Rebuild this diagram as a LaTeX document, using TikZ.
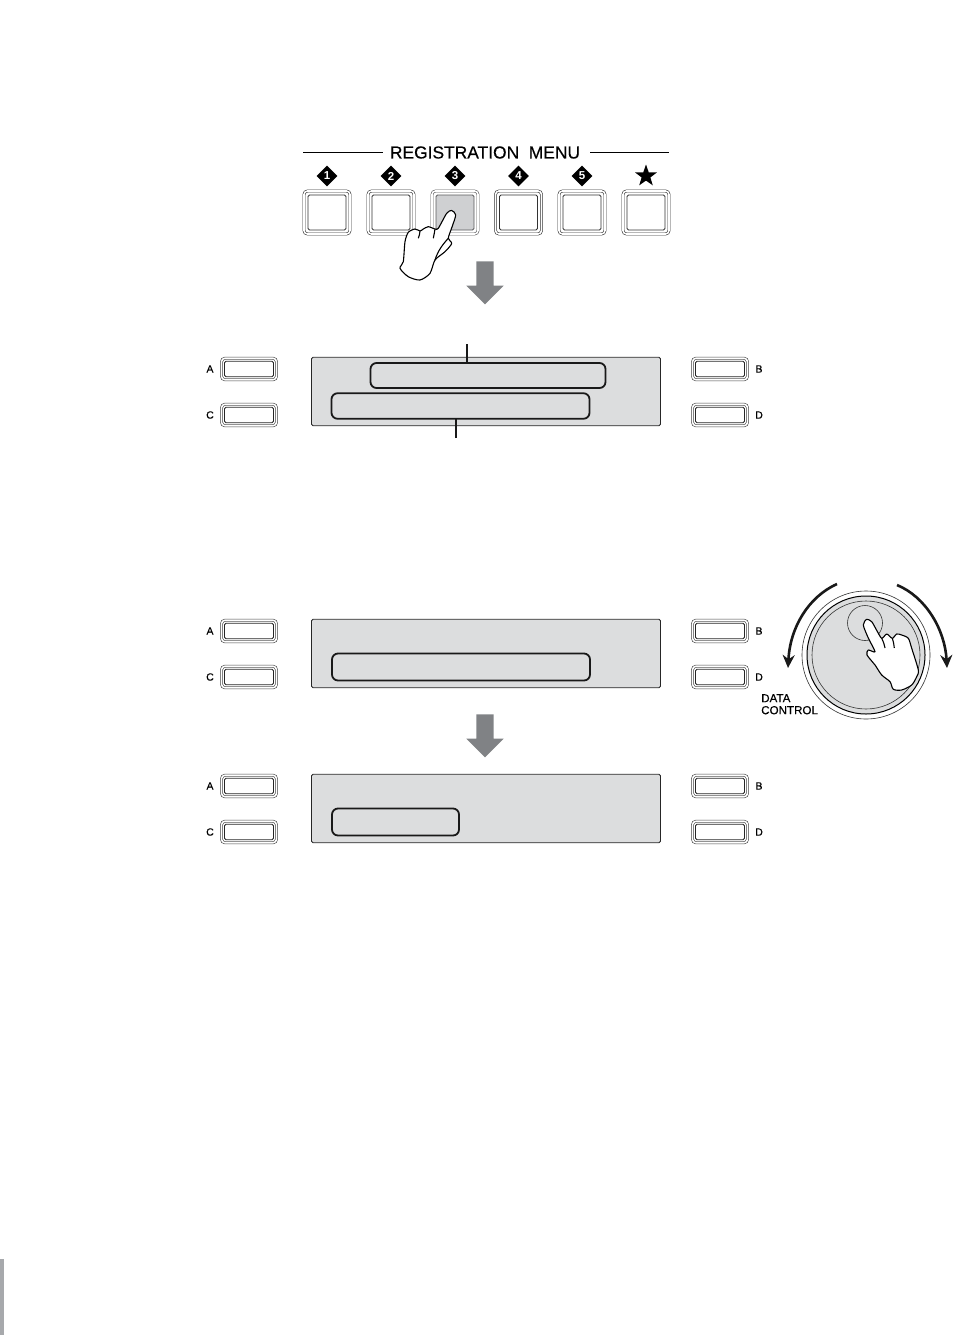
\documentclass[tikz,border=0pt]{standalone}
\usepackage{fontspec}
\setmainfont{Liberation Sans}
\newfontfamily\labelfont[FakeBold=0.35]{Liberation Sans}
\usetikzlibrary{arrows.meta, shapes.geometric, shapes.arrows, positioning}
\definecolor{zpanel}{RGB}{220, 221, 222}
\definecolor{zpress}{RGB}{207, 208, 210}
\definecolor{zarrow}{RGB}{128, 130, 133}
\definecolor{zbar}{RGB}{167, 169, 172}
\definecolor{zring}{RGB}{90, 90, 92}

\begin{document}
\begin{tikzpicture}[x=1pt, y=-1pt,
  ringbox/.style={rectangle, rounded corners=3.5pt, draw=#1, line width=0.6pt,
                  double=white, double distance=1.6pt, outer sep=0pt, inner sep=0pt},
  corebox/.style={rectangle, rounded corners=1.5pt, draw=#1, line width=0.8pt, outer sep=0pt, inner sep=0pt},
  panelbox/.style={rectangle, rounded corners=1.5pt, draw=black!85, line width=0.8pt, fill=zpanel,
                   minimum width=349pt, minimum height=68.5pt, outer sep=0pt, inner sep=0pt},
  fieldbox/.style={rectangle, rounded corners=6pt, draw=black!90, line width=1.8pt, fill=zpanel,
                   outer sep=0pt, inner sep=0pt},
  badge/.style={diamond, fill=black, text=white, minimum size=21pt, inner sep=0pt,
               font=\fontsize{11.5}{11.5}\selectfont\bfseries},
  softkey/.style={font=\labelfont\fontsize{10.5}{11}\selectfont, inner sep=0pt},
  blockarr/.style={single arrow, fill=zarrow, rotate=-90, minimum width=37pt, minimum height=43pt,
                   single arrow head extend=10pt, inner sep=8.5pt, outer sep=0pt},
  lead/.style={line width=1.6pt, black!90},
  turn/.style={-{Stealth[length=13pt, width=12pt]}, line width=2.6pt, black!90},
  handline/.style={line width=1.1pt, black, line join=round}
]
\useasboundingbox (0,0) rectangle (966,1335);

% Title and top row
\node[inner sep=0pt, font=\labelfont\fontsize{17.4}{18}\selectfont] (title) at (485,152.5) {REGISTRATION\ \ MENU};
\coordinate (ruleL) at (303,152);
\coordinate (ruleR) at (669,152);
\draw[line width=0.9pt] (ruleL) -- (383,152);
\draw[line width=0.9pt] (590,152) -- (ruleR);
\foreach \n/\x/\s/\c/\f in {1/327/1/black!80/white, 2/391/2/black!80/white, 3/455/3/zring/zpress, 4/518.5/4/black!80/white, 5/582/5/black!80/white}{
  \node[badge] (badge\n) at (\x,176) {\s};
  \node[ringbox=\c, minimum width=46pt, minimum height=43pt] (reg\n) at (\x,212.5) {};
  \node[corebox=\c, fill=\f, minimum width=38pt, minimum height=35pt] at (reg\n) {};
}
\node[star, star points=5, star point ratio=2.5, fill=black, minimum size=23pt, inner sep=0pt] (badgestar) at (646,176) {};
\node[ringbox=black!80, minimum width=46pt, minimum height=43pt] (regstar) at (646,212.5) {};
\node[corebox=black!80, fill=white, minimum width=38pt, minimum height=35pt] at (regstar) {};

% Hand on button 3
\draw[handline, fill=white] plot[smooth cycle, tension=0.45] coordinates {
  (451.7,210.5) (455.7,215) (452,227) (448.3,238.3) (451.7,243.5) (445,251.7) (435,260) (430,273.3) (420,280)
  (408.3,276.7) (400,268.3) (403.3,261.7) (405,241.7) (408.3,232.3) (415,229) (420,231) (423.3,229)
  (428.3,226.7) (435,229) (438.3,228.3) (446.7,213.3)};
\draw[handline] (420,231) .. controls (420,234) and (419,236) .. (418.3,238.3);
\draw[handline] (435,229) .. controls (434.5,232) and (434,235) .. (433.3,238.3);
\draw[handline] (448.3,238.3) .. controls (444,243) and (438,250) .. (435,260);

\node[blockarr] (down1) at (485,278.5) {};
\node[blockarr] (down2) at (485,731.5) {};

% Soft keys beside the three panels
\foreach \y/\id in {369/1, 631/2, 786/3}{
  \node[ringbox=black!75, minimum width=55pt, minimum height=21.5pt] (keyA\id) at (249,\y) {};
  \node[corebox=black!85, fill=white, minimum width=49pt, minimum height=15.5pt] at (keyA\id) {};
  \node[softkey] (lblA\id) at (210,\y) {A};
  \node[ringbox=black!75, minimum width=55pt, minimum height=21.5pt] (keyC\id) at (249,\y+46) {};
  \node[corebox=black!85, fill=white, minimum width=49pt, minimum height=15.5pt] at (keyC\id) {};
  \node[softkey] (lblC\id) at (210,\y+46) {C};
  \node[ringbox=black!75, minimum width=55pt, minimum height=21.5pt] (keyB\id) at (720,\y) {};
  \node[corebox=black!85, fill=white, minimum width=49pt, minimum height=15.5pt] at (keyB\id) {};
  \node[softkey] (lblB\id) at (759,\y) {B};
  \node[ringbox=black!75, minimum width=55pt, minimum height=21.5pt] (keyD\id) at (720,\y+46) {};
  \node[corebox=black!85, fill=white, minimum width=49pt, minimum height=15.5pt] at (keyD\id) {};
  \node[softkey] (lblD\id) at (759,\y+46) {D};
}

% Panels
\node[panelbox] (panel1) at (486,391.5) {};
\node[panelbox] (panel2) at (486,653.5) {};
\node[panelbox] (panel3) at (486,808.5) {};
\node[fieldbox, minimum width=235pt, minimum height=25pt] (field1a) at (488,375.5) {};
\node[fieldbox, minimum width=258pt, minimum height=25.5pt] (field1b) at (460.5,406) {};
\node[fieldbox, minimum width=258pt, minimum height=27pt] (field2) at (461,667) {};
\node[fieldbox, minimum width=127pt, minimum height=27pt] (field3) at (395.5,822) {};
\coordinate (leadtop) at (467,344);
\coordinate (leadbot) at (456,438);
\draw[lead] (leadtop) -- (leadtop |- field1a.north);
\draw[lead] (leadbot) -- (leadbot |- field1b.south);

% Data dial
\node[circle, draw=black!80, line width=0.6pt, fill=white, minimum size=128pt, inner sep=0pt] (dial) at (866,655) {};
\node[circle, draw=black, line width=1pt, fill=zpanel, minimum size=118pt, inner sep=0pt] (dialrim) at (dial) {};
\node[circle, draw=black!80, line width=0.6pt, minimum size=108pt, inner sep=0pt] (dialface) at (dial) {};
\node[circle, draw=black!80, line width=0.6pt, minimum size=35pt, inner sep=0pt] (dimple) at (865,623) {};
\coordinate (turnLa) at (837,584);
\coordinate (turnLb) at (788,668);
\coordinate (turnRa) at (897,585);
\coordinate (turnRb) at (947,668);
\draw[turn] (turnLa) .. controls (808,597) and (790,628) .. (turnLb);
\draw[turn] (turnRa) .. controls (926,597) and (945,630) .. (turnRb);
\node[inner sep=0pt, align=left, anchor=north west, font=\labelfont\fontsize{11.6}{12}\selectfont] (dataname) at (761,694) {DATA\\CONTROL};

% Hand on dial
\draw[handline, fill=white] plot[smooth cycle, tension=0.45] coordinates {
  (866.7,619.3) (871.7,621.7) (876.5,630) (881.7,638.3) (886.7,634) (892.3,638.3) (896.7,634) (901.7,635) (908.3,638.3)
  (911.7,648.3) (918.3,670) (916.7,676.7) (911.7,685) (901.7,690) (893.3,689.3) (890,681.7) (881.7,675)
  (875,665) (867,655) (868.3,650) (875,651.7) (868.3,638) (863.3,625)};
\draw[handline] (881.7,638.3) .. controls (883.5,642) and (884.5,645) .. (885,648);
\draw[handline] (892.3,638.3) .. controls (893.5,642) and (894,645) .. (894.3,648);

% Page tab
\node[rectangle, fill=zbar, minimum width=4pt, minimum height=76pt, inner sep=0pt, outer sep=0pt] (tab) at (2,1297) {};
\end{tikzpicture}
\end{document}
